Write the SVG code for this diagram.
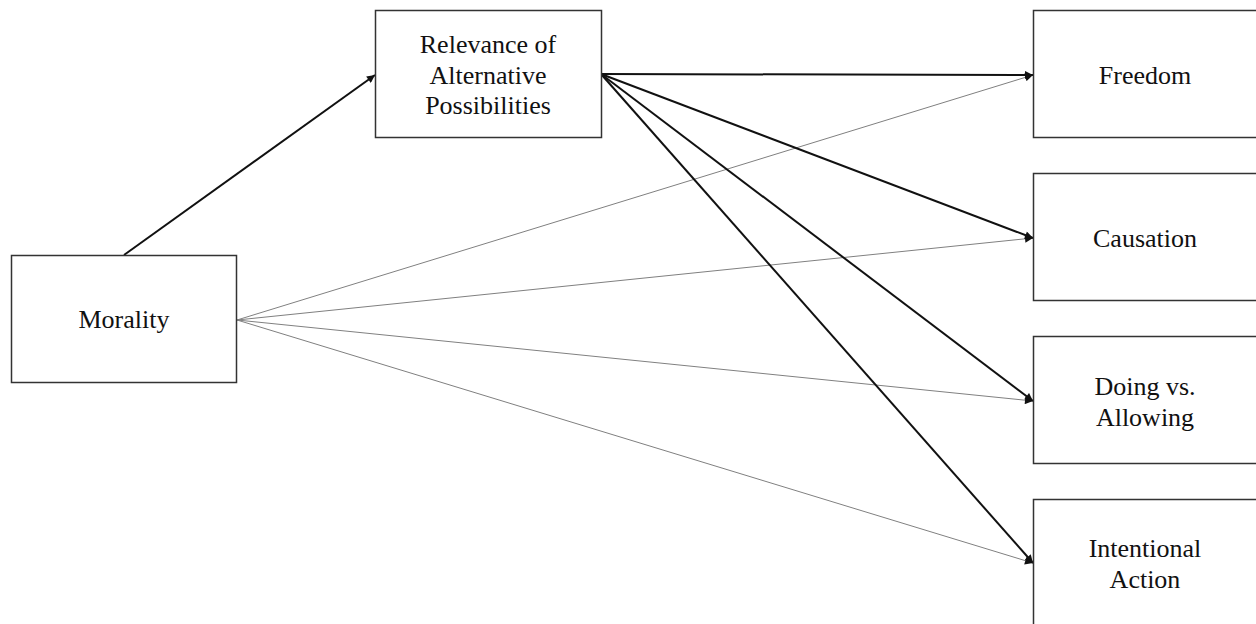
<svg xmlns="http://www.w3.org/2000/svg" width="1256" height="624" viewBox="0 0 1256 624">
  <style>
    .box { fill: #ffffff; stroke: #333333; stroke-width: 1.5; }
    .lbl { font-family: "Liberation Serif", "Times New Roman", serif; font-size: 26px; fill: #111111; text-anchor: middle; }
    .thick { stroke: #111111; stroke-width: 2; fill: none; }
    .thin { stroke: #808080; stroke-width: 1; fill: none; }
  </style>
  <defs>
    <marker id="arrow" viewBox="0 0 10 10" refX="10" refY="5" markerWidth="9" markerHeight="8" markerUnits="userSpaceOnUse" orient="auto">
      <path d="M0,0 L10,5 L0,10 z" fill="#111111"/>
    </marker>
    <marker id="arrowThin" viewBox="0 0 10 10" refX="10" refY="5" markerWidth="9" markerHeight="8" markerUnits="userSpaceOnUse" orient="auto">
      <path d="M0,0 L10,5 L0,10 z" fill="#111111"/>
    </marker>
  </defs>
  <rect width="1256" height="624" fill="#ffffff"/>

  <g id="connectors">
    <line class="thin" x1="237" y1="320" x2="1033" y2="75" marker-end="url(#arrowThin)"/>
    <line class="thin" x1="237" y1="320" x2="1033" y2="238" marker-end="url(#arrowThin)"/>
    <line class="thin" x1="237" y1="320" x2="1033" y2="401" marker-end="url(#arrowThin)"/>
    <line class="thin" x1="237" y1="320" x2="1033" y2="563" marker-end="url(#arrowThin)"/>
    <line class="thick" x1="124" y1="255" x2="375" y2="75" marker-end="url(#arrow)"/>
    <line class="thick" x1="601" y1="74" x2="1033" y2="75" marker-end="url(#arrow)"/>
    <line class="thick" x1="601" y1="74" x2="1033" y2="238" marker-end="url(#arrow)"/>
    <line class="thick" x1="601" y1="74" x2="1033" y2="401" marker-end="url(#arrow)"/>
    <line class="thick" x1="601" y1="74" x2="1033" y2="563" marker-end="url(#arrow)"/>
  </g>

  <g id="node-morality">
    <rect class="box" x="11.5" y="255.5" width="225" height="127"/>
    <text class="lbl" x="124" y="328">Morality</text>
  </g>
  <g id="node-relevance">
    <rect class="box" x="375.5" y="10.5" width="226" height="127"/>
    <text class="lbl" x="488" y="53">Relevance of</text>
    <text class="lbl" x="488" y="84">Alternative</text>
    <text class="lbl" x="488" y="114">Possibilities</text>
  </g>
  <g id="node-freedom">
    <rect class="box" x="1033.5" y="10.5" width="226" height="127"/>
    <text class="lbl" x="1145" y="84">Freedom</text>
  </g>
  <g id="node-causation">
    <rect class="box" x="1033.5" y="173.5" width="226" height="127"/>
    <text class="lbl" x="1145" y="247">Causation</text>
  </g>
  <g id="node-doing">
    <rect class="box" x="1033.5" y="336.5" width="226" height="127"/>
    <text class="lbl" x="1145" y="395">Doing vs.</text>
    <text class="lbl" x="1145" y="426">Allowing</text>
  </g>
  <g id="node-intentional">
    <rect class="box" x="1033.5" y="499.5" width="226" height="130"/>
    <text class="lbl" x="1145" y="557">Intentional</text>
    <text class="lbl" x="1145" y="588">Action</text>
  </g>
</svg>
